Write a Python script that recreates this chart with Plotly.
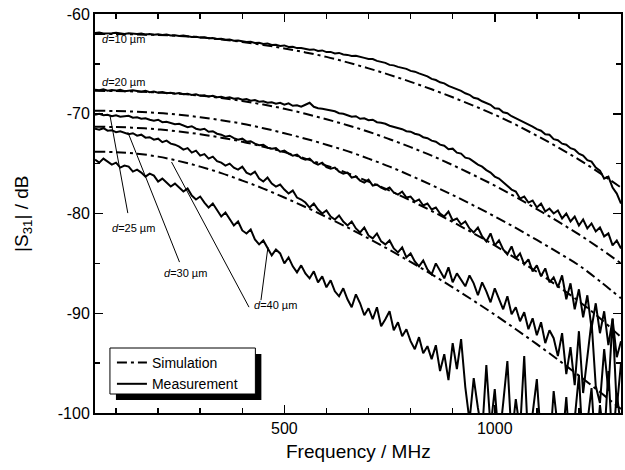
import plotly.graph_objects as go

# ---------------- data ----------------
freq_sim = list(range(50, 1301, 50))
freq_meas = list(range(50, 1301, 10))

sim_d10 = [-62.0, -62.0, -62.05, -62.1, -62.2, -62.35, -62.55, -62.8, -63.1, -63.45,
           -63.85, -64.3, -64.85, -65.45, -66.1, -66.8, -67.55, -68.35, -69.2, -70.1,
           -71.1, -72.2, -73.35, -74.6, -75.95, -77.4]
sim_d20 = [-67.7, -67.72, -67.78, -67.87, -68.0, -68.18, -68.42, -68.72, -69.08, -69.5,
           -70.0, -70.55, -71.15, -71.8, -72.55, -73.35, -74.2, -75.15, -76.15, -77.2,
           -78.35, -79.55, -80.8, -82.1, -83.5, -85.0]
sim_d25 = [-69.7, -69.73, -69.8, -69.92, -70.1, -70.35, -70.65, -71.0, -71.45, -71.95,
           -72.5, -73.1, -73.75, -74.5, -75.3, -76.2, -77.15, -78.15, -79.2, -80.3,
           -81.45, -82.65, -83.9, -85.2, -86.8, -88.5]
sim_d30 = [-71.3, -71.33, -71.42, -71.57, -71.78, -72.05, -72.4, -72.8, -73.3, -73.85,
           -74.5, -75.2, -75.95, -76.8, -77.7, -78.7, -79.75, -80.85, -82.0, -83.2,
           -84.5, -85.85, -87.3, -88.8, -90.5, -92.4]
sim_d40 = [-73.8, -73.85, -74.0, -74.3, -74.75, -75.3, -75.95, -76.7, -77.5, -78.4,
           -79.35, -80.35, -81.4, -82.5, -83.65, -84.85, -86.1, -87.4, -88.75, -90.15,
           -91.6, -93.1, -94.65, -96.25, -97.9, -99.6]

meas_d10 = [-61.9, -61.85, -61.95, -61.9, -61.92, -61.88, -61.95, -62.0, -61.93, -61.97,
            -62.0, -61.96, -62.05, -62.0, -62.08, -62.04, -62.1, -62.06, -62.15, -62.12,
            -62.2, -62.15, -62.25, -62.3, -62.28, -62.35, -62.32, -62.42, -62.4, -62.5,
            -62.48, -62.58, -62.55, -62.68, -62.65, -62.75, -62.8, -62.78, -62.9, -62.88,
            -63.0, -62.95, -63.1, -63.08, -63.2, -63.15, -63.3, -63.28, -63.42, -63.4,
            -63.5, -63.58, -63.55, -63.7, -63.65, -63.82, -63.8, -63.95, -63.9, -64.05,
            -64.1, -64.2, -64.18, -64.32, -64.4, -64.5, -64.52, -64.7, -64.8, -64.9,
            -65.1, -65.15, -65.3, -65.42, -65.5, -65.7, -65.78, -65.95, -66.1, -66.25,
            -66.5, -66.62, -66.85, -66.95, -67.2, -67.35, -67.55, -67.7, -67.95, -68.1,
            -68.4, -68.5, -68.75, -68.95, -69.1, -69.45, -69.5, -69.85, -69.95, -70.25,
            -70.45, -70.7, -70.85, -71.1, -71.3, -71.55, -71.7, -72.05, -72.1, -72.55,
            -72.65, -73.0, -73.1, -73.45, -73.6, -74.0, -74.2, -74.65, -74.8, -75.4,
            -75.7, -76.5, -76.3, -77.4, -78.0, -79.0]
meas_d20 = [-67.6, -67.65, -67.55, -67.7, -67.62, -67.68, -67.6, -67.75, -67.7, -67.65,
            -67.72, -67.8, -67.7, -67.85, -67.78, -67.9, -67.82, -67.95, -67.9, -68.0,
            -67.92, -68.05, -68.0, -68.12, -68.05, -68.2, -68.15, -68.28, -68.2, -68.35,
            -68.3, -68.42, -68.35, -68.5, -68.45, -68.6, -68.52, -68.7, -68.62, -68.8,
            -68.75, -68.9, -68.85, -69.0, -68.9, -69.1, -68.95, -69.2, -69.15, -69.3,
            -69.1, -68.9, -69.3, -69.45, -69.5, -69.6, -69.7, -69.75, -69.95, -70.0,
            -70.15, -70.3, -70.25, -70.5, -70.45, -70.65, -70.6, -70.85, -70.9, -71.0,
            -71.2, -71.3, -71.45, -71.55, -71.75, -71.8, -72.0, -72.1, -72.35, -72.45,
            -72.7, -72.8, -73.1, -73.2, -73.55, -73.5, -73.9, -74.0, -74.4, -74.5,
            -74.8, -75.1, -75.3, -75.65, -75.9, -76.3, -76.5, -76.9, -77.2, -77.6,
            -77.8, -78.5, -78.3, -78.9, -78.7, -79.4, -79.0, -79.8, -79.5, -80.0,
            -79.7, -80.5, -80.0, -80.8, -80.3, -81.2, -80.6, -81.5, -81.0, -81.8,
            -81.4, -82.3, -82.0, -83.2, -82.7, -83.5]
meas_d25 = [-70.1, -70.0, -70.15, -70.1, -70.25, -70.15, -70.3, -70.25, -70.2, -70.4,
            -70.35, -70.5, -70.45, -70.6, -70.7, -70.6, -70.85, -70.8, -70.95, -71.05,
            -71.0, -71.2, -71.35, -71.25, -71.5, -71.6, -71.5, -71.8, -71.75, -72.0,
            -72.1, -72.3, -72.2, -72.45, -72.6, -72.5, -72.8, -72.75, -73.0, -73.15,
            -73.1, -73.4, -73.5, -73.45, -73.8, -73.7, -74.0, -74.2, -74.1, -74.45,
            -74.6, -74.5, -74.9, -75.1, -74.9, -75.35, -75.5, -75.4, -75.8, -76.0,
            -75.9, -76.4, -76.3, -76.7, -76.9, -76.6, -77.2, -77.1, -77.4, -77.6,
            -77.4, -77.9, -78.1, -77.8, -78.4, -78.3, -78.8, -78.6, -79.2, -79.0,
            -79.6, -79.4, -80.0, -80.3, -79.8, -80.7, -80.5, -81.1, -80.8, -81.5,
            -81.9, -81.4, -82.3, -82.8, -82.0, -83.2, -82.7, -83.6, -84.1, -83.3,
            -84.5, -84.0, -85.1, -84.6, -85.8, -85.2, -86.3, -85.5, -86.9, -86.4,
            -87.4, -86.2, -88.6, -87.0, -89.6, -87.6, -90.4, -88.2, -91.5, -89.0,
            -92.0, -89.8, -93.2, -90.6, -94.4, -92.8]
meas_d30 = [-71.5, -71.6, -71.45, -71.7, -71.65, -71.85, -71.75, -71.9, -72.05, -71.95,
            -72.2, -72.1, -72.4, -72.35, -72.6, -72.5, -72.85, -72.7, -73.0, -73.1,
            -73.3, -73.6, -73.45, -73.9, -73.7, -74.2, -74.05, -74.5, -74.3, -74.75,
            -74.9, -75.2, -75.0, -75.4, -75.6, -75.3, -75.9, -76.1, -75.8, -76.5,
            -76.8, -76.4, -77.0, -77.3, -77.1, -77.6, -78.0, -77.7, -78.4, -78.6,
            -78.9, -79.4, -79.0, -79.6, -80.0, -79.7, -80.3, -80.6, -80.2, -80.8,
            -81.2, -80.8, -81.5, -81.9, -81.4, -82.2, -82.5, -82.0, -82.8, -83.1,
            -82.7, -83.5, -83.9, -83.4, -84.4, -84.0, -84.8, -85.3, -84.7, -85.6,
            -86.1, -85.0, -85.8, -86.5, -85.4, -86.9, -86.0, -86.6, -87.3, -86.2,
            -87.0, -88.2, -86.9, -87.8, -88.9, -87.5, -88.6, -89.6, -88.3, -90.1,
            -89.4, -90.8, -89.9, -91.6, -90.5, -92.2, -90.9, -93.0, -91.7, -92.5,
            -94.3, -92.0, -96.1, -93.4, -97.2, -91.8, -98.0, -94.6, -90.8, -97.3,
            -99.0, -93.6, -97.8, -90.5, -99.5, -95.0]
meas_d40 = [-74.6, -74.9, -74.5, -74.8, -75.1, -74.9, -75.4, -75.2, -75.3, -75.8,
            -75.6, -75.9, -76.3, -76.0, -76.2, -76.8, -76.5, -76.9, -77.3, -77.0,
            -77.4, -77.8, -77.5, -78.2, -78.6, -78.3, -78.9, -79.4, -79.0, -79.7,
            -80.3, -79.9, -80.6, -81.2, -80.8, -81.7, -82.0, -81.6, -82.6, -83.1,
            -82.7, -83.5, -84.2, -83.6, -84.0, -85.0, -84.4, -85.3, -85.9, -85.2,
            -86.0, -86.5, -85.8, -86.9, -86.3, -87.4, -86.7, -87.8, -88.3, -87.5,
            -88.6, -89.4, -88.1, -89.0, -90.2, -89.5, -90.6, -89.4, -91.3, -90.6,
            -89.8, -91.7, -90.9, -92.3, -91.6, -92.8, -93.6, -92.4, -94.0, -93.3,
            -94.6, -93.2, -95.8, -94.1, -96.7, -93.0, -95.6, -92.6, -97.4, -100.8,
            -96.5, -99.5, -102.0, -95.2, -101.5, -97.6, -103.0, -99.0, -94.8, -102.5,
            -98.6, -101.8, -94.3, -103.5, -99.8, -96.6, -102.8, -100.2, -104.0, -97.8,
            -101.6, -103.2, -98.4, -104.5, -100.6, -96.2, -103.8, -101.0, -97.5, -104.2,
            -99.2, -102.6, -95.8, -103.5, -98.0, -101.5]

x_tick_vals = [500, 1000]
x_tick_text = ["500", "1000"]
y_tick_vals = [-100, -90, -80, -70, -60]
y_tick_text = ["-100", "-90", "-80", "-70", "-60"]
labels = ["<i>d</i>=10 µm", "<i>d</i>=20 µm", "<i>d</i>=25 µm", "<i>d</i>=30 µm", "<i>d</i>=40 µm"]
legend_names = ["Simulation", "Measurement"]

# ---------------- figure ----------------
FONT = "Liberation Sans, Arial, sans-serif"
fig = go.Figure()

for i, s in enumerate([sim_d10, sim_d20, sim_d25, sim_d30, sim_d40]):
    fig.add_trace(go.Scatter(
        x=freq_sim, y=s, mode="lines", name=legend_names[0], showlegend=(i == 0),
        line=dict(color="black", width=2, dash="10px,4px,3px,4px", shape="spline")))

for i, m in enumerate([meas_d10, meas_d20, meas_d25, meas_d30, meas_d40]):
    fig.add_trace(go.Scatter(
        x=freq_meas, y=m, mode="lines", name=legend_names[1], showlegend=(i == 0),
        line=dict(color="black", width=2)))

axis_common = dict(
    showline=True, linecolor="black", linewidth=2, mirror="ticks",
    ticks="inside", ticklen=8, tickwidth=1.5, tickcolor="black",
    showgrid=False, zeroline=False, tickmode="array",
    tickfont=dict(family=FONT, size=16, color="black"),
)
fig.update_xaxes(range=[50, 1300], tickvals=x_tick_vals, ticktext=x_tick_text,
                 minor=dict(ticks="inside", ticklen=5, tickwidth=1.5, tickcolor="black",
                            dtick=100, tick0=0, showgrid=False),
                 **axis_common)
fig.update_yaxes(range=[-100, -60], tickvals=y_tick_vals, ticktext=y_tick_text,
                 minor=dict(ticks="inside", ticklen=5, tickwidth=1.5, tickcolor="black",
                            dtick=5, tick0=0, showgrid=False),
                 **axis_common)

# curve labels (data coordinates)
label_pos = [(61.8, -62.54), (61.8, -66.82), (85.4, -81.46), (208.2, -85.98), (423.2, -89.19)]
for txt, (lx, ly) in zip(labels, label_pos):
    fig.add_annotation(x=lx, y=ly, xref="x", yref="y", text=txt, showarrow=False,
                       xanchor="left", yanchor="middle",
                       font=dict(family=FONT, size=11, color="black"))

# leader lines
leaders = [((85.4, -70.13), (128.0, -79.96)),
           ((128.0, -71.84), (250.8, -84.87)),
           ((231.9, -74.84), (416.0, -89.39)),
           ((444.4, -88.69), (461.0, -83.37))]
for (x0, y0), (x1, y1) in leaders:
    fig.add_shape(type="line", xref="x", yref="y", x0=x0, y0=y0, x1=x1, y1=y1,
                  line=dict(color="black", width=1))

# legend shadow and box
fig.add_shape(type="rect", xref="paper", yref="paper",
              x0=0.0398, x1=0.3163, y0=0.0326, y1=0.1479,
              fillcolor="black", line=dict(width=0), layer="above")
fig.add_shape(type="rect", xref="paper", yref="paper",
              x0=0.0284, x1=0.3049, y0=0.0476, y1=0.1629,
              fillcolor="white", line=dict(color="black", width=1), layer="above")

# axis titles
fig.add_annotation(x=0.5, y=-0.0977, xref="paper", yref="paper", text="Frequency / MHz",
                   showarrow=False, xanchor="center", yanchor="middle",
                   font=dict(family=FONT, size=19, color="black"))
fig.add_annotation(x=-0.138, y=0.5, xref="paper", yref="paper",
                   text="|S<sub>31</sub>| / dB", textangle=-90,
                   showarrow=False, xanchor="center", yanchor="middle",
                   font=dict(family=FONT, size=19, color="black"))

fig.update_layout(
    width=625, height=470,
    margin=dict(l=95, r=2, t=14, b=57),
    paper_bgcolor="white", plot_bgcolor="white",
    font=dict(family=FONT, color="black"),
    legend=dict(x=0.0322, y=0.1654, xanchor="left", yanchor="top",
                bgcolor="rgba(0,0,0,0)", borderwidth=0,
                font=dict(family=FONT, size=14, color="black"),
                tracegroupgap=0, itemwidth=30),
)

fig.write_html("out.html", config={"displayModeBar": False, "staticPlot": True},
               post_script="document.body.style.margin='0px';")
